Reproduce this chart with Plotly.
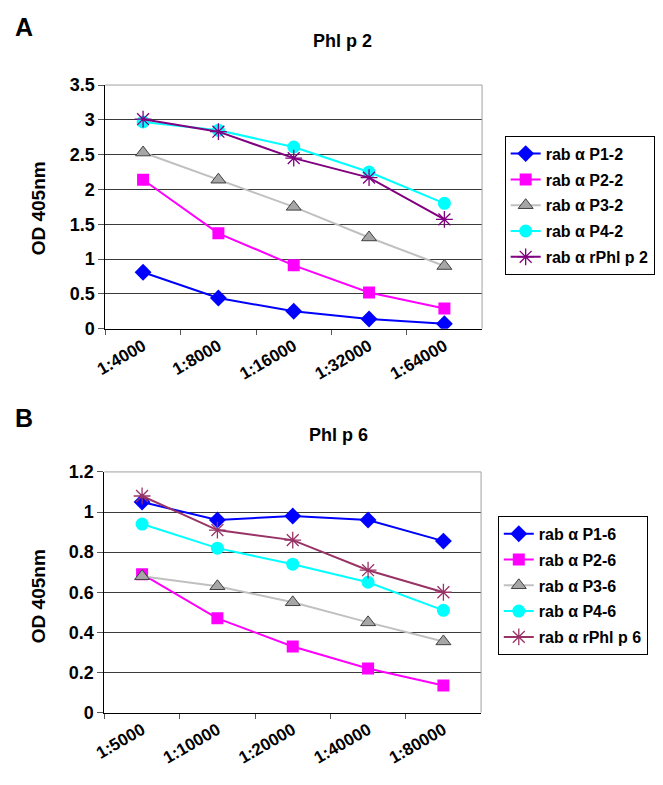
import plotly.graph_objects as go

# ---------------- data ----------------
cats_a = ["1:4000", "1:8000", "1:16000", "1:32000", "1:64000"]
p1_2 = [0.81, 0.44, 0.25, 0.14, 0.07]
p2_2 = [2.14, 1.37, 0.91, 0.52, 0.29]
p3_2 = [2.53, 2.14, 1.75, 1.31, 0.90]
p4_2 = [2.97, 2.85, 2.61, 2.25, 1.80]
rphl_2 = [3.01, 2.83, 2.45, 2.17, 1.57]

cats_b = ["1:5000", "1:10000", "1:20000", "1:40000", "1:80000"]
p1_6 = [1.05, 0.96, 0.98, 0.96, 0.855]
p2_6 = [0.69, 0.47, 0.33, 0.22, 0.135]
p3_6 = [0.68, 0.63, 0.55, 0.45, 0.355]
p4_6 = [0.94, 0.82, 0.74, 0.65, 0.51]
rphl_6 = [1.08, 0.91, 0.86, 0.71, 0.60]

names_a = ["rab α P1-2", "rab α P2-2", "rab α P3-2", "rab α P4-2", "rab α rPhl p 2"]
names_b = ["rab α P1-6", "rab α P2-6", "rab α P3-6", "rab α P4-6", "rab α rPhl p 6"]

FONT = "Liberation Sans, Arial, sans-serif"

styles_a = [
    dict(line=dict(color="#0000FF", width=2), marker=dict(symbol="diamond", size=13, color="#0000FF")),
    dict(line=dict(color="#FF00FF", width=2), marker=dict(symbol="square", size=12, color="#FF00FF")),
    dict(line=dict(color="#C0C0C0", width=2), marker=dict(symbol="triangle-up", size=13, color="#A6A6A6",
                                                          line=dict(color="#404040", width=1))),
    dict(line=dict(color="#00FFFF", width=2), marker=dict(symbol="circle", size=13, color="#00FFFF")),
    dict(line=dict(color="#800080", width=2), marker=dict(symbol="asterisk-open", size=14,
                                                          line=dict(color="#800080", width=1.3))),
]
styles_b = [dict(s) for s in styles_a]
styles_b[4] = dict(line=dict(color="#993366", width=2), marker=dict(symbol="asterisk-open", size=14,
                                                                    line=dict(color="#993366", width=1.3)))

fig = go.Figure()

for i, (vals, name, st) in enumerate(zip([p1_2, p2_2, p3_2, p4_2, rphl_2], names_a, styles_a)):
    fig.add_trace(go.Scatter(x=cats_a, y=vals, name=name, mode="lines+markers",
                             xaxis="x", yaxis="y", legend="legend", legendgroup="a%d" % i, **st))
for i, (vals, name, st) in enumerate(zip([p1_6, p2_6, p3_6, p4_6, rphl_6], names_b, styles_b)):
    fig.add_trace(go.Scatter(x=cats_b, y=vals, name=name, mode="lines+markers",
                             xaxis="x2", yaxis="y2", legend="legend2", legendgroup="b%d" % i, **st))

W, H = 663, 785


def px(x):
    return x / W


def py(y):
    return 1 - y / H


xax = dict(type="category", showgrid=False, showline=True, linecolor="#000000", linewidth=1,
           ticks="outside", tickson="boundaries", ticklen=5, tickcolor="#555555",
           tickangle=-30, tickfont=dict(family=FONT, size=17, color="#000000", weight="bold"),
           zeroline=False, fixedrange=True)
yax = dict(showgrid=True, gridcolor="#3a3a3a", gridwidth=1, showline=True, linecolor="#000000",
           linewidth=1, ticks="outside", ticklen=6, tickcolor="#555555",
           tickfont=dict(family=FONT, size=18, color="#000000", weight="bold"),
           zeroline=False, fixedrange=True)

legend_common = dict(xanchor="left", yanchor="top", bordercolor="#000000", borderwidth=1,
                     bgcolor="white", font=dict(family=FONT, size=16, weight="bold"),
                     tracegroupgap=2, itemwidth=30)

fig.update_layout(
    width=W, height=H,
    margin=dict(l=0, r=0, t=0, b=0),
    paper_bgcolor="white", plot_bgcolor="white",
    font=dict(family=FONT, color="#000000"),
    xaxis=dict(xax, domain=[px(96), px(479)], anchor="y", range=[-0.5, 4.5]),
    yaxis=dict(yax, domain=[py(327), py(77)], anchor="x", range=[0, 3.5], dtick=0.5),
    xaxis2=dict(xax, domain=[px(95), px(478)], anchor="y2", range=[-0.5, 4.5]),
    yaxis2=dict(yax, domain=[py(721), py(474)], anchor="x2", range=[0, 1.2], dtick=0.2),
    legend=dict(legend_common, x=px(502), y=py(129)),
    legend2=dict(legend_common, x=px(495), y=py(519)),
    showlegend=True,
)

# plot-area borders (top/right light gray)
for xr, yr in [("x domain", "y domain"), ("x2 domain", "y2 domain")]:
    fig.add_shape(type="line", xref=xr, yref=yr, x0=0, x1=1, y0=1, y1=1,
                  line=dict(color="#A0A0A0", width=1))
    fig.add_shape(type="line", xref=xr, yref=yr, x0=1, x1=1, y0=0, y1=1,
                  line=dict(color="#A0A0A0", width=1))

annots = [
    dict(text="A", x=px(2), y=py(17), xanchor="left", yanchor="middle",
         font=dict(size=25, weight="bold")),
    dict(text="B", x=px(2), y=py(419), xanchor="left", yanchor="middle",
         font=dict(size=25, weight="bold")),
    dict(text="Phl p 2", x=px(337), y=py(32), xanchor="center", yanchor="middle",
         font=dict(size=18, weight="bold")),
    dict(text="Phl p 6", x=px(333), y=py(436), xanchor="center", yanchor="middle",
         font=dict(size=18, weight="bold")),
    dict(text="OD 405nm", x=px(28), y=py(204), xanchor="center", yanchor="middle",
         textangle=-90, font=dict(size=19, weight="bold")),
    dict(text="OD 405nm", x=px(28), y=py(602), xanchor="center", yanchor="middle",
         textangle=-90, font=dict(size=19, weight="bold")),
]
for a in annots:
    a["font"]["family"] = FONT
    a["font"]["color"] = "#000000"
    fig.add_annotation(xref="paper", yref="paper", showarrow=False, **a)

fig.write_html("out.html", config={"displayModeBar": False},
               post_script="document.body.style.margin='0';document.body.style.padding='0';")
